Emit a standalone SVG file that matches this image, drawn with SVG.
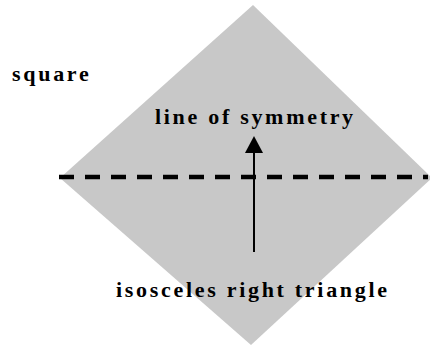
<svg xmlns="http://www.w3.org/2000/svg" width="430" height="345" viewBox="0 0 430 345">
  <style>
    .lbl { font-family: "Liberation Serif", "Times New Roman", serif; font-weight: bold; font-size: 22px; fill: #000; letter-spacing: 2.7px; }
    .shape { fill: #c8c8c8; stroke: none; }
    .sym { stroke: #000; stroke-width: 4.5; stroke-dasharray: 15 11; fill: none; }
    .arrow { stroke: #000; stroke-width: 2; fill: none; }
  </style>
  <defs>
    <marker id="head" markerUnits="userSpaceOnUse" markerWidth="18" markerHeight="18" viewBox="0 0 18 18" refX="1" refY="9" orient="auto">
      <path d="M0,0 L17,9 L0,18 Z" fill="#000"/>
    </marker>
  </defs>
  <rect width="430" height="345" fill="#fff"/>
  <g id="square">
    <polygon class="shape" points="253,5 432,178 251,345 60,178"/>
    <text class="lbl" x="12" y="81">square</text>
  </g>
  <g id="connectors">
    <line class="sym" x1="59" y1="177" x2="428" y2="177"/>
    <line class="arrow" x1="254" y1="252" x2="254" y2="152" marker-end="url(#head)"/>
  </g>
  <g id="line-of-symmetry">
    <text class="lbl" x="155" y="124">line of symmetry</text>
  </g>
  <g id="isosceles-right-triangle">
    <text class="lbl" x="116" y="297">isosceles right triangle</text>
  </g>
</svg>
